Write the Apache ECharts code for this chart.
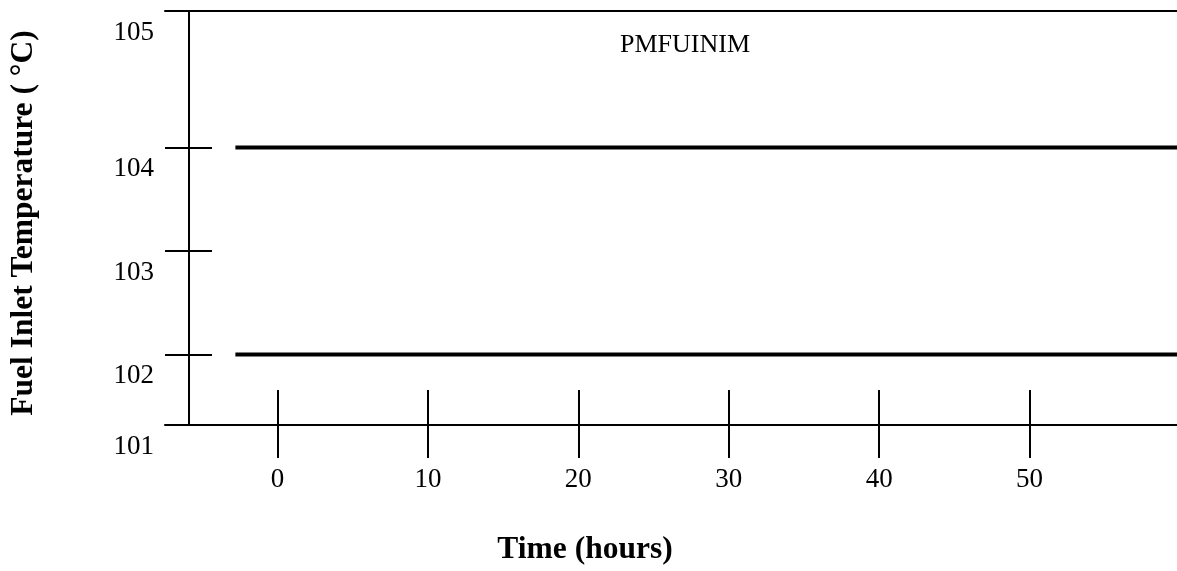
<!DOCTYPE html>
<html>
<head>
<meta charset="utf-8">
<script src="https://cdn.jsdelivr.net/npm/echarts@6/dist/echarts.min.js"></script>
<style>
  html, body { margin: 0; padding: 0; background: #fff; }
  #chart { width: 1177px; height: 571px; }
</style>
</head>
<body>
<div id="chart"></div>
<script>
// Time axis ticks (hours)
const timeTicks = [0, 10, 20, 30, 40, 50];
// Temperature ticks (°C) and the labels printed along the left axis
const tempTicks = [104, 103, 102];
const tempLabelValues = [105.32, 104, 103, 102, 101.32];
const tempLabels = ['105', '104', '103', '102', '101'];
// Horizontal limit lines: time span and temperature levels
const limitTimes = [-2.8, 59.8];
const upperLimit = [104, 104];
const lowerLimit = [102, 102];
const seriesLabel = 'PMFUINIM';

const serif = '"Liberation Serif", "Times New Roman", serif';
const ink = '#000';

function pairs(ys) {
  return limitTimes.map((t, i) => [t, ys[i]]);
}

function tempLabel(v) {
  let best = 0;
  tempLabelValues.forEach((lv, i) => {
    if (Math.abs(lv - v) < Math.abs(tempLabelValues[best] - v)) best = i;
  });
  return tempLabels[best];
}

const xRange = { min: -7.48, max: 59.8 };
const yRange = { min: 101.32, max: 105.32 };

const chart = echarts.init(document.getElementById('chart'), null, { renderer: 'canvas' });

chart.setOption({
  animation: false,
  backgroundColor: '#fff',
  title: {
    text: seriesLabel,
    left: 620,
    top: 32,
    padding: 0,
    textStyle: { fontFamily: serif, fontSize: 26, fontWeight: 'normal', color: ink }
  },
  grid: { left: 164, right: 0, top: 11, bottom: 144.3, containLabel: false },
  xAxis: [
    {
      type: 'value', position: 'bottom', ...xRange,
      axisLine: { show: true, onZero: false, lineStyle: { color: ink, width: 2 } },
      axisTick: { show: true, inside: false, length: 33, customValues: timeTicks, lineStyle: { color: ink, width: 2 } },
      axisLabel: { show: true, customValues: timeTicks, margin: 41, fontFamily: serif, fontSize: 27, color: ink },
      splitLine: { show: false },
      name: 'Time (hours)',
      nameLocation: 'middle',
      nameGap: 109,
      nameTextStyle: { fontFamily: serif, fontSize: 31.5, fontWeight: 'bold', color: ink, padding: [0, 172, 0, 0] }
    },
    {
      type: 'value', position: 'bottom', offset: 0, ...xRange,
      axisLine: { show: false, onZero: false },
      axisTick: { show: true, inside: true, length: 35, customValues: timeTicks, lineStyle: { color: ink, width: 2 } },
      axisLabel: { show: false },
      splitLine: { show: false }
    },
    {
      type: 'value', position: 'top', offset: 0, ...xRange,
      axisLine: { show: true, onZero: false, lineStyle: { color: ink, width: 2 } },
      axisTick: { show: false },
      axisLabel: { show: false },
      splitLine: { show: false }
    }
  ],
  yAxis: [
    {
      type: 'value', position: 'left', offset: -24, ...yRange,
      axisLine: { show: true, onZero: false, lineStyle: { color: ink, width: 2 } },
      axisTick: { show: true, inside: false, length: 24, customValues: tempTicks, lineStyle: { color: ink, width: 2 } },
      axisLabel: {
        show: true, customValues: tempLabelValues, formatter: tempLabel,
        margin: 35, verticalAlign: 'top', padding: [8, 0, 0, 0],
        fontFamily: serif, fontSize: 27, color: ink
      },
      splitLine: { show: false },
      name: 'Fuel Inlet Temperature ( °C)',
      nameLocation: 'middle',
      nameRotate: 90,
      nameGap: 149,
      nameTextStyle: { fontFamily: serif, fontSize: 31.5, fontWeight: 'bold', color: ink, padding: [0, 10, 0, 0] }
    },
    {
      type: 'value', position: 'left', offset: -24, ...yRange,
      axisLine: { show: false, onZero: false },
      axisTick: { show: true, inside: true, length: 23, customValues: tempTicks, lineStyle: { color: ink, width: 2 } },
      axisLabel: { show: false },
      splitLine: { show: false }
    }
  ],
  series: [
    {
      name: 'upper', type: 'line', xAxisIndex: 0, yAxisIndex: 0,
      data: pairs(upperLimit), showSymbol: false, symbol: 'none',
      lineStyle: { color: ink, width: 4 }, silent: true
    },
    {
      name: 'lower', type: 'line', xAxisIndex: 0, yAxisIndex: 0,
      data: pairs(lowerLimit), showSymbol: false, symbol: 'none',
      lineStyle: { color: ink, width: 4 }, silent: true
    }
  ]
});
</script>
</body>
</html>
